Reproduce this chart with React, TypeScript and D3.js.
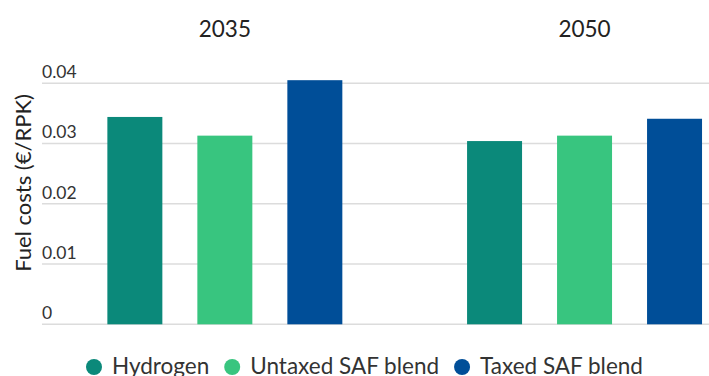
import React, { useEffect, useRef } from "react";
import * as d3 from "d3";

const years = ["2035", "2050"];
const seriesNames = ["Hydrogen", "Untaxed SAF blend", "Taxed SAF blend"];
const seriesColors = ["#0b897a", "#38c57f", "#004e98"];
const hydrogen = [0.0344, 0.0304];
const untaxed = [0.0313, 0.0313];
const taxed = [0.0405, 0.0341];
const yTicks = [0, 0.01, 0.02, 0.03, 0.04];
const yTickLabels = ["0", "0.01", "0.02", "0.03", "0.04"];
const yTitle = "Fuel costs (€/RPK)";

const W = 709;
const H = 376;
const FONT = "Lato, 'Open Sans', sans-serif";

export default function App() {
  const ref = useRef<SVGSVGElement>(null);

  useEffect(() => {
    const svg = d3.select(ref.current);
    svg.selectAll("*").remove();

    const values = [hydrogen, untaxed, taxed];
    const data = years.map((y, i) => ({
      year: y,
      vals: seriesNames.map((s, j) => ({ series: s, value: values[j][i], color: seriesColors[j] })),
    }));

    const x0 = d3.scaleBand<string>().domain(years).range([45, 764.4]).padding(0);
    const x1 = d3
      .scaleBand<string>()
      .domain(seriesNames)
      .range([0, x0.bandwidth()])
      .paddingInner(0.389)
      .paddingOuter(0.693);
    const y = d3.scaleLinear().domain([0, 0.04]).range([324.3, 83.2]);

    // gridlines
    svg
      .append("g")
      .selectAll("line")
      .data(yTicks)
      .join("line")
      .attr("x1", 42)
      .attr("x2", W)
      .attr("y1", (d) => y(d))
      .attr("y2", (d) => y(d))
      .attr("stroke", "#dcdcdc")
      .attr("stroke-width", 1.5);

    // tick labels
    svg
      .append("g")
      .selectAll("text")
      .data(yTicks)
      .join("text")
      .attr("x", 42)
      .attr("y", (d) => y(d) - 5)
      .attr("font-family", FONT)
      .attr("font-size", 17.5)
      .attr("fill", "#333")
      .text((d, i) => yTickLabels[i]);

    // bars
    const g = svg
      .append("g")
      .selectAll("g")
      .data(data)
      .join("g")
      .attr("transform", (d) => `translate(${x0(d.year)},0)`);
    g.selectAll("rect")
      .data((d) => d.vals)
      .join("rect")
      .attr("x", (d) => x1(d.series)!)
      .attr("width", x1.bandwidth())
      .attr("y", (d) => y(d.value))
      .attr("height", (d) => y(0) - y(d.value))
      .attr("fill", (d) => d.color);

    // group titles
    svg
      .append("g")
      .selectAll("text")
      .data(years)
      .join("text")
      .attr("x", (d) => x0(d)! + x0.bandwidth() / 2)
      .attr("y", 36.5)
      .attr("text-anchor", "middle")
      .attr("font-family", FONT)
      .attr("font-size", 22.5)
      .attr("fill", "#222")
      .text((d) => d);

    // y title
    svg
      .append("text")
      .attr("transform", `translate(31,183) rotate(-90)`)
      .attr("text-anchor", "middle")
      .attr("font-family", FONT)
      .attr("font-size", 22)
      .attr("fill", "#222")
      .text(yTitle);

    // legend
    const leg = svg.append("g");
    let cx = 86;
    seriesNames.forEach((name, i) => {
      leg
        .append("circle")
        .attr("cx", cx + 8)
        .attr("cy", 367)
        .attr("r", 8)
        .attr("fill", seriesColors[i]);
      const t = leg
        .append("text")
        .attr("x", cx + 26)
        .attr("y", 373.5)
        .attr("font-family", FONT)
        .attr("font-size", 22.5)
        .attr("fill", "#333")
        .text(name);
      const w = (t.node() as SVGTextElement).getComputedTextLength();
      cx = cx + 26 + w + 15;
    });
  }, []);

  return (
    <svg
      ref={ref}
      width={W}
      height={H}
      style={{ position: "absolute", left: 0, top: 0, background: "#fff" }}
    />
  );
}
